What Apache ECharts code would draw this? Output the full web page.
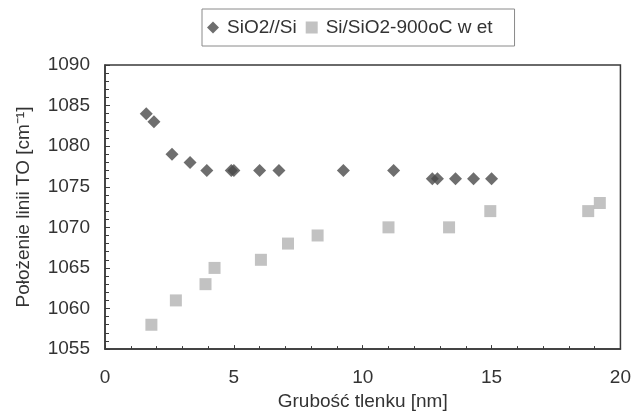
<!DOCTYPE html>
<html>
<head>
<meta charset="utf-8">
<script src="https://cdn.jsdelivr.net/npm/echarts@6/dist/echarts.min.js"></script>
<style>
  html, body { margin: 0; padding: 0; background: #fff; }
  #chart { width: 634px; height: 416px; }
</style>
</head>
<body>
<div id="chart"></div>
<script>
// grubość tlenku [nm] i położenie linii TO [cm-1]
var axSio2Si = [1.6, 1.9, 2.6, 3.3, 3.95, 4.9, 5.0, 6.0, 6.75, 9.25, 11.2, 12.7, 12.9, 13.6, 14.3, 15.0];
var adSio2Si = [1084, 1083, 1079, 1078, 1077, 1077, 1077, 1077, 1077, 1077, 1077, 1076, 1076, 1076, 1076, 1076];

var axWet = [1.8, 2.75, 3.9, 4.25, 6.05, 7.1, 8.25, 11.0, 13.35, 14.95, 18.75, 19.2];
var adWet = [1058, 1061, 1063, 1065, 1066, 1068, 1069, 1070, 1070, 1072, 1072, 1073];

var acNames = ['SiO2//Si', 'Si/SiO2-900oC w et'];

function toPairs(ax, ay) {
    var res = [];
    for (var i = 0; i < ax.length; i++) {
        res.push([ax[i], ay[i]]);
    }
    return res;
}

var cFont = '"Liberation Sans", Arial, sans-serif';
var cAxis = '#3a3a3a';
var cText = '#333';

var oChart = echarts.init(document.getElementById('chart'));
var oOption = {
    animation: false,
    textStyle: { fontFamily: cFont },
    legend: {
        data: [
            { name: acNames[0], icon: 'diamond' },
            { name: acNames[1], icon: 'rect' }
        ],
        left: 202,
        top: 9,
        padding: [9, 22, 9, 5],
        itemGap: 9,
        itemWidth: 12,
        itemHeight: 12,
        borderColor: '#8a8a8a',
        borderWidth: 1,
        textStyle: { fontSize: 19, color: cText, fontFamily: cFont, padding: [0, 0, 0, 3] }
    },
    grid: {
        left: 105,
        right: 12,
        top: 65,
        bottom: 62,
        show: true,
        borderColor: cAxis,
        borderWidth: 1.5
    },
    xAxis: {
        type: 'value',
        min: 0,
        max: 20,
        interval: 5,
        name: 'Grubość tlenku [nm]',
        nameLocation: 'middle',
        nameGap: 40,
        nameTextStyle: { fontSize: 19, color: cText },
        axisLine: { show: true, lineStyle: { color: cAxis, width: 1.5 } },
        axisTick: { show: true, inside: true, length: 4, lineStyle: { color: cAxis } },
        minorTick: { show: true, splitNumber: 5, length: 3, lineStyle: { color: cAxis } },
        axisLabel: { fontSize: 19, color: cText, margin: 19 },
        splitLine: { show: false }
    },
    yAxis: {
        type: 'value',
        min: 1055,
        max: 1090,
        interval: 5,
        name: 'Położenie linii TO [cm⁻¹]',
        nameLocation: 'middle',
        nameGap: 72,
        nameTextStyle: { fontSize: 19, color: cText },
        axisLine: { show: true, lineStyle: { color: cAxis, width: 1.5 } },
        axisTick: { show: true, inside: true, length: 5, lineStyle: { color: cAxis } },
        minorTick: { show: true, splitNumber: 5, length: 4, lineStyle: { color: cAxis } },
        axisLabel: {
            fontSize: 19,
            color: cText,
            margin: 15,
            formatter: function (v) { return String(v); }
        },
        splitLine: { show: false }
    },
    series: [
        {
            name: acNames[0],
            type: 'scatter',
            symbol: 'diamond',
            symbolSize: 13,
            itemStyle: { color: '#4a4a4a' },
            data: toPairs(axSio2Si, adSio2Si)
        },
        {
            name: acNames[1],
            type: 'scatter',
            symbol: 'rect',
            symbolSize: 12,
            itemStyle: { color: '#b3b3b3' },
            data: toPairs(axWet, adWet)
        }
    ]
};
oChart.setOption(oOption);
</script>
</body>
</html>
